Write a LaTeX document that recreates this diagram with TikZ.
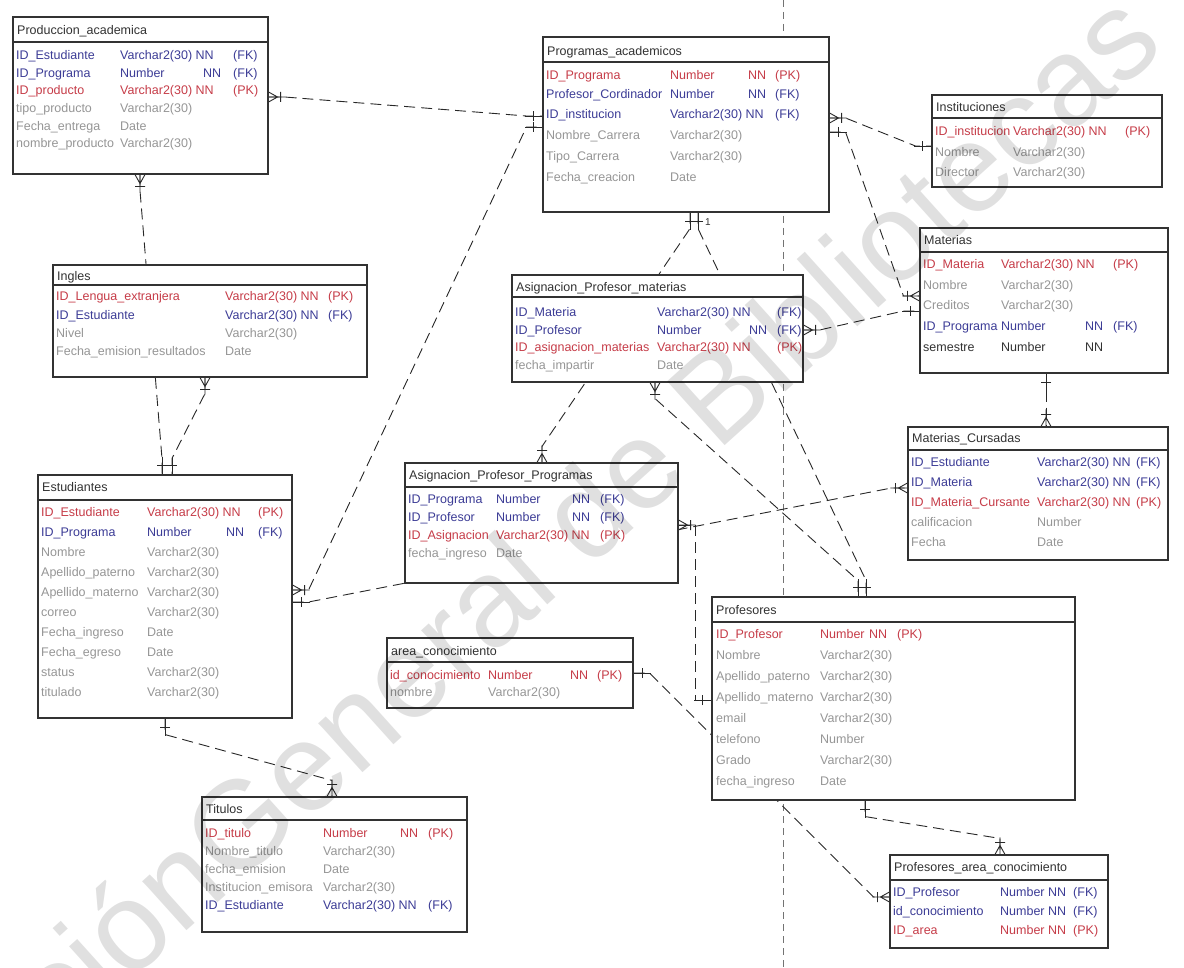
\documentclass[tikz,border=0pt]{standalone}
\usepackage{fontspec}
\setmainfont{Liberation Sans}
\usetikzlibrary{fit,calc}

\definecolor{pkcol}{RGB}{198,60,72}
\definecolor{fkcol}{RGB}{60,60,150}
\definecolor{atcol}{RGB}{150,150,150}
\definecolor{dkcol}{RGB}{50,50,50}
\definecolor{linecol}{RGB}{40,40,40}

\pgfdeclarelayer{back}
\pgfdeclarelayer{links}
\pgfdeclarelayer{front}
\pgfsetlayers{back,links,main,front}

% column positions of the current table: name, type, NN, key
\newcounter{cellno}
\newcommand\setcols[4]{\def\cA{#1}\def\cB{#2}\def\cC{#3}\def\cD{#4}}
% one attribute row: y, style, name, type, NN, key
\newcommand\erow[6]{%
  \stepcounter{cellno}%
  \node[celltxt,#2] (r\thecellno a) at ({\cA},{#1+4.5}) {#3};
  \if\relax\detokenize{#4}\relax\else\node[celltxt,#2] (r\thecellno b) at ({\cB},{#1+4.5}) {#4};\fi
  \if\relax\detokenize{#5}\relax\else\node[celltxt,#2] (r\thecellno c) at ({\cC},{#1+4.5}) {#5};\fi
  \if\relax\detokenize{#6}\relax\else\node[celltxt,#2] (r\thecellno d) at ({\cD},{#1+4.5}) {#6};\fi
}
% table frame: id, title, x1, y1, x2, y2, title y, rule y
\newcommand\ertable[8]{%
  \node[tblbox, fit={(#3,#4) (#5,#6)}] (#1) {};
  \node[celltxt, text=dkcol] (#1-title) at ({#3+4},{#7+4.5}) {#2};
  \draw[seprule] (#1.west |- 0,#8) -- (#1.east |- 0,#8);
}
% relation: point A, angle A, end mark A, point B, angle B, end mark B
\newcommand\relate[6]{%
  \draw[link] (#1) -- ($(#1)+({16*cos(#2)},{-16*sin(#2)})$)
     -- ($(#4)+({16*cos(#5)},{-16*sin(#5)})$) -- (#4);
  \path (#1) pic[rotate=#2] {#3};
  \path (#4) pic[rotate=#5] {#6};
}

\tikzset{
  crowmark/.pic={\draw[linecol, line width=0.9pt] (0,0)--(17,0) (0,-5)--(9,0)--(0,5) (12,-5)--(12,5);},
  onemark/.pic={\draw[linecol, line width=0.9pt] (0,0)--(17,0) (9,-5)--(9,5);},
}

\begin{document}
\begin{tikzpicture}[x=1pt,y=-1pt,
  celltxt/.style={anchor=base west, inner sep=0pt, font=\fontsize{12.5}{15}\selectfont},
  pkrow/.style={text=pkcol}, fkrow/.style={text=fkcol},
  atrow/.style={text=atcol}, dkrow/.style={text=dkcol},
  tblbox/.style={draw=dkcol, fill=white, line width=1.1pt, inner sep=0pt},
  seprule/.style={draw=dkcol, line width=1.4pt},
  link/.style={draw=linecol, line width=0.9pt, dash pattern=on 11pt off 6pt},
  pagebreak/.style={draw=black!55, line width=0.7pt, dash pattern=on 7pt off 5pt},
  wmark/.style={text=black, text opacity=0.12, font=\fontsize{125}{130}\selectfont, inner sep=0pt},
  lbl/.style={inner sep=0pt, text=dkcol, font=\fontsize{10}{12}\selectfont}]

\useasboundingbox (0,0) rectangle (1184,968);
\begin{pgfonlayer}{back}
  \fill[white] (0,0) rectangle (1184,968);
  \coordinate (pbtop) at (783,0);
  \coordinate (pbbot) at (783,968);
  \draw[pagebreak] (pbtop) -- (pbbot);
\end{pgfonlayer}

% ---------- tables ----------
\ertable{prod}{Produccion\_academica}{13}{17}{268}{174}{30}{42}
\setcols{16}{120}{203}{233}
\erow{55}{fkrow}{ID\_Estudiante}{Varchar2(30) NN}{}{(FK)}
\erow{73}{fkrow}{ID\_Programa}{Number}{NN}{(FK)}
\erow{90}{pkrow}{ID\_producto}{Varchar2(30) NN}{}{(PK)}
\erow{108}{atrow}{tipo\_producto}{Varchar2(30)}{}{}
\erow{126}{atrow}{Fecha\_entrega}{Date}{}{}
\erow{143}{atrow}{nombre\_producto}{Varchar2(30)}{}{}

\ertable{prog}{Programas\_academicos}{543}{37}{829}{212}{51}{62}
\setcols{546}{670}{748}{775}
\erow{75}{pkrow}{ID\_Programa}{Number}{NN}{(PK)}
\erow{94.5}{fkrow}{Profesor\_Cordinador}{Number}{NN}{(FK)}
\erow{114}{fkrow}{ID\_institucion}{Varchar2(30) NN}{}{(FK)}
\erow{135.5}{atrow}{Nombre\_Carrera}{Varchar2(30)}{}{}
\erow{156}{atrow}{Tipo\_Carrera}{Varchar2(30)}{}{}
\erow{177}{atrow}{Fecha\_creacion}{Date}{}{}

\ertable{inst}{Instituciones}{932}{95}{1162}{187}{107}{118}
\setcols{935}{1013}{0}{1125}
\erow{131}{pkrow}{ID\_institucion}{Varchar2(30) NN}{}{(PK)}
\erow{152}{atrow}{Nombre}{Varchar2(30)}{}{}
\erow{172}{atrow}{Director}{Varchar2(30)}{}{}

\ertable{mat}{Materias}{920}{228}{1168}{373}{240}{252}
\setcols{923}{1001}{1085}{1113}
\erow{264}{pkrow}{ID\_Materia}{Varchar2(30) NN}{}{(PK)}
\erow{285}{atrow}{Nombre}{Varchar2(30)}{}{}
\erow{305}{atrow}{Creditos}{Varchar2(30)}{}{}
\erow{326}{fkrow}{ID\_Programa}{Number}{NN}{(FK)}
\erow{347}{dkrow}{semestre}{Number}{NN}{}

\ertable{ingl}{Ingles}{53}{265}{367}{377}{276}{285}
\setcols{56}{225}{0}{328}
\erow{296}{pkrow}{ID\_Lengua\_extranjera}{Varchar2(30) NN}{}{(PK)}
\erow{315}{fkrow}{ID\_Estudiante}{Varchar2(30) NN}{}{(FK)}
\erow{333}{atrow}{Nivel}{Varchar2(30)}{}{}
\erow{351}{atrow}{Fecha\_emision\_resultados}{Date}{}{}

\ertable{apm}{Asignacion\_Profesor\_materias}{512}{275}{803}{382}{287}{297}
\setcols{515}{657}{749}{777}
\erow{312}{fkrow}{ID\_Materia}{Varchar2(30) NN}{}{(FK)}
\erow{330}{fkrow}{ID\_Profesor}{Number}{NN}{(FK)}
\erow{347}{pkrow}{ID\_asignacion\_materias}{Varchar2(30) NN}{}{(PK)}
\erow{365}{atrow}{fecha\_impartir}{Date}{}{}

\ertable{est}{Estudiantes}{38}{475}{292}{718}{487}{500}
\setcols{41}{147}{226}{258}
\erow{512}{pkrow}{ID\_Estudiante}{Varchar2(30) NN}{}{(PK)}
\erow{532}{fkrow}{ID\_Programa}{Number}{NN}{(FK)}
\erow{552}{atrow}{Nombre}{Varchar2(30)}{}{}
\erow{572}{atrow}{Apellido\_paterno}{Varchar2(30)}{}{}
\erow{592}{atrow}{Apellido\_materno}{Varchar2(30)}{}{}
\erow{612}{atrow}{correo}{Varchar2(30)}{}{}
\erow{632}{atrow}{Fecha\_ingreso}{Date}{}{}
\erow{652}{atrow}{Fecha\_egreso}{Date}{}{}
\erow{672}{atrow}{status}{Varchar2(30)}{}{}
\erow{692}{atrow}{titulado}{Varchar2(30)}{}{}

\ertable{app}{Asignacion\_Profesor\_Programas}{405}{463}{678}{583}{475}{487}
\setcols{408}{496}{572}{600}
\erow{499}{fkrow}{ID\_Programa}{Number}{NN}{(FK)}
\erow{517}{fkrow}{ID\_Profesor}{Number}{NN}{(FK)}
\erow{535}{pkrow}{ID\_Asignacion}{Varchar2(30) NN}{}{(PK)}
\erow{553}{atrow}{fecha\_ingreso}{Date}{}{}

\ertable{mcur}{Materias\_Cursadas}{908}{427}{1168}{560}{438}{450}
\setcols{911}{1037}{0}{1136}
\erow{462}{fkrow}{ID\_Estudiante}{Varchar2(30) NN}{}{(FK)}
\erow{482}{fkrow}{ID\_Materia}{Varchar2(30) NN}{}{(FK)}
\erow{502}{pkrow}{ID\_Materia\_Cursante}{Varchar2(30) NN}{}{(PK)}
\erow{522}{atrow}{calificacion}{Number}{}{}
\erow{542}{atrow}{Fecha}{Date}{}{}

\ertable{prof}{Profesores}{712}{597}{1075}{800}{610}{622}
\setcols{716}{820}{869}{897}
\erow{634}{pkrow}{ID\_Profesor}{Number}{NN}{(PK)}
\erow{655}{atrow}{Nombre}{Varchar2(30)}{}{}
\erow{676}{atrow}{Apellido\_paterno}{Varchar2(30)}{}{}
\erow{697}{atrow}{Apellido\_materno}{Varchar2(30)}{}{}
\erow{718}{atrow}{email}{Varchar2(30)}{}{}
\erow{739}{atrow}{telefono}{Number}{}{}
\erow{760}{atrow}{Grado}{Varchar2(30)}{}{}
\erow{781}{atrow}{fecha\_ingreso}{Date}{}{}

\ertable{area}{area\_conocimiento}{387}{638}{633}{708}{651}{662}
\setcols{390}{488}{570}{597}
\erow{675}{pkrow}{id\_conocimiento}{Number}{NN}{(PK)}
\erow{692}{atrow}{nombre}{Varchar2(30)}{}{}

\ertable{tit}{Titulos}{202}{797}{467}{932}{809}{820}
\setcols{205}{323}{400}{428}
\erow{833}{pkrow}{ID\_titulo}{Number}{NN}{(PK)}
\erow{851}{atrow}{Nombre\_titulo}{Varchar2(30)}{}{}
\erow{869}{atrow}{fecha\_emision}{Date}{}{}
\erow{887}{atrow}{Institucion\_emisora}{Varchar2(30)}{}{}
\erow{905}{fkrow}{ID\_Estudiante}{Varchar2(30) NN}{}{(FK)}

\ertable{parea}{Profesores\_area\_conocimiento}{890}{855}{1108}{948}{867}{880}
\setcols{893}{1000}{0}{1073}
\erow{892}{fkrow}{ID\_Profesor}{Number NN}{}{(FK)}
\erow{911}{fkrow}{id\_conocimiento}{Number NN}{}{(FK)}
\erow{930}{pkrow}{ID\_area}{Number NN}{}{(PK)}

% ---------- relations ----------
\begin{pgfonlayer}{links}
\relate{prod.east |- 0,97}{0}{crowmark}{prog.west |- 0,116}{180}{onemark}
\relate{prod.south -| 140,0}{270}{crowmark}{est.north -| 162,0}{90}{onemark}
\relate{ingl.south -| 205,0}{270}{crowmark}{est.north -| 172,0}{90}{onemark}
\relate{est.east |- 0,590}{0}{crowmark}{prog.west |- 0,127}{180}{onemark}
\relate{est.east |- 0,602}{0}{onemark}{mcur.west |- 0,488}{180}{crowmark}
\relate{est.south -| 165,0}{270}{onemark}{tit.north -| 332,0}{90}{crowmark}
\relate{prog.east |- 0,118}{0}{crowmark}{inst.west |- 0,146}{180}{onemark}
\relate{prog.east |- 0,132}{0}{onemark}{mat.west |- 0,296}{180}{crowmark}
\relate{apm.east |- 0,330}{0}{crowmark}{mat.west |- 0,311}{180}{onemark}
\relate{mat.south -| 1046,0}{270}{onemark}{mcur.north -| 1046,0}{90}{crowmark}
\relate{prog.south -| 690,0}{270}{onemark}{app.north -| 542,0}{90}{crowmark}
\relate{prog.south -| 698,0}{270}{onemark}{prof.north -| 866,0}{90}{onemark}
\relate{apm.south -| 655,0}{270}{crowmark}{prof.north -| 858,0}{90}{onemark}
\draw[link] (app.east |- 0,525) -- ++(17,0) |- (prof.west |- 0,700);
\path (app.east |- 0,525) pic {crowmark};
\path (prof.west |- 0,700) pic[rotate=180] {onemark};
\relate{area.east |- 0,673}{0}{onemark}{parea.west |- 0,897}{180}{crowmark}
\relate{prof.south -| 865,0}{270}{onemark}{parea.north -| 1000,0}{90}{crowmark}
\end{pgfonlayer}
\node[lbl] (card) at (708,222) {1};

% ---------- watermark ----------
\begin{pgfonlayer}{front}
\node[wmark, rotate=42, anchor=base west] (wmB) at (232,890) {General de Bibliotecas};
\node[wmark, rotate=42, anchor=base east] (wmA) at (wmB.base west) {Dirección\ };
\end{pgfonlayer}
\end{tikzpicture}
\end{document}
